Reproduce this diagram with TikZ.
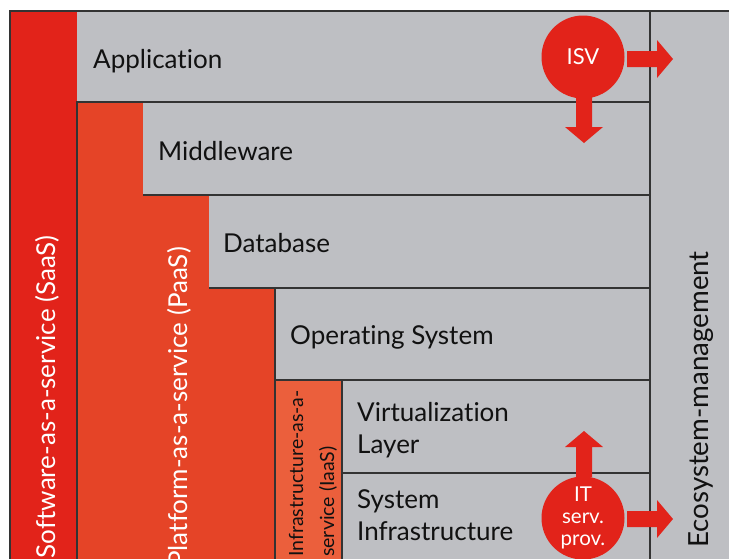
\documentclass[tikz,border=0pt]{standalone}
\usepackage{fontspec}
\setmainfont{Lato}[Ligatures=NoCommon]
\usetikzlibrary{calc}

\definecolor{saasred}{HTML}{E2231A}
\definecolor{paasorange}{HTML}{E54427}
\definecolor{iaasorange}{HTML}{EB5F3C}
\definecolor{layergray}{HTML}{BEBFC3}
\definecolor{rulegray}{HTML}{333333}
\definecolor{inkblack}{HTML}{111111}

\tikzset{
  rule/.style={draw=rulegray, line width=1.3pt},
  layerlabel/.style={anchor=base west, inner sep=0pt, text=inkblack,
    font=\fontsize{26}{31.5}\selectfont, align=left},
  sidelabel/.style={rotate=90, inner sep=0pt, text=white,
    font=\fontsize{26}{31.5}\selectfont},
  iaaslabel/.style={rotate=90, anchor=base west, inner sep=0pt, text=inkblack,
    font=\fontsize{19.5}{24}\selectfont},
  actor/.style={circle, fill=saasred, minimum size=83pt, inner sep=0pt,
    text=white, align=center},
  fatarrow/.pic={
    \fill[saasred] (-2,-8) -- (28,-8) -- (28,-19) -- (44,0) -- (28,19)
      -- (28,8) -- (-2,8) -- cycle;
  }
}

\begin{document}
\begin{tikzpicture}[x=1pt,y=-1pt]
\useasboundingbox (0,0) rectangle (729,558);
\clip (0,0) rectangle (729,558);

% layer stack and service columns
\fill[layergray] (10,11) rectangle (740,570);
\fill[saasred] (10,11) rectangle (77,570);
\fill[paasorange] (77,102) rectangle (275,570);
\fill[layergray] (143,102) rectangle (650,195);
\fill[layergray] (209,195) rectangle (650,288);
\fill[iaasorange] (275,380) rectangle (342,570);

% separating rules
\draw[rule] (10,570) -- (10,11) -- (740,11);
\draw[rule] (77,570) -- (77,102) -- (650,102);
\draw[rule] (143,195) -- (650,195);
\draw[rule] (209,288) -- (650,288);
\draw[rule] (275,570) -- (275,288);
\draw[rule] (275,380) -- (650,380);
\draw[rule] (342,570) -- (342,380);
\draw[rule] (342,473) -- (650,473);
\draw[rule] (650,11) -- (650,570);

% layer names (multi-line nodes: base is the last line)
\node[layerlabel] (app) at (93,68) {Application};
\node[layerlabel] (mid) at (158,160) {Middleware};
\node[layerlabel] (db) at (223,252) {Database};
\node[layerlabel] (os) at (290,344) {Operating System};
\node[layerlabel] (virt) at (357,453) {Virtualization\\Layer};
\node[layerlabel] (sysinf) at (357,540) {System\\Infrastructure};

% service models
\node[sidelabel, anchor=base east] (saas) at (55,235) {Software-as-a-service (SaaS)};
\node[sidelabel, anchor=base east] (paas) at (187,247) {Platform-as-a-service (PaaS)};
\node[iaaslabel] (iaas1) at (303,557) {Infrastructure-as-a-};
\node[iaaslabel] (iaas2) at (334,557) {service (IaaS)};
\node[sidelabel, anchor=base west, text=inkblack,
  font=\fontsize{27.7}{32}\selectfont] (eco) at (708,548) {Ecosystem-management};

% actors
\node[actor, font=\fontsize{22}{24}\selectfont] (isv) at (583,57) {ISV};
\node[actor, font=\fontsize{20.5}{22}\selectfont] (itsp) at (583,518) {IT\\serv.\\prov.};

\pic at ($(isv.center)+(46,2)$) {fatarrow};
\pic[rotate=-90] at ($(isv.center)+(1,42)$) {fatarrow};
\pic[rotate=90] at ($(itsp.center)+(1,-43)$) {fatarrow};
\pic at ($(itsp.center)+(46,1)$) {fatarrow};
\end{tikzpicture}
\end{document}
